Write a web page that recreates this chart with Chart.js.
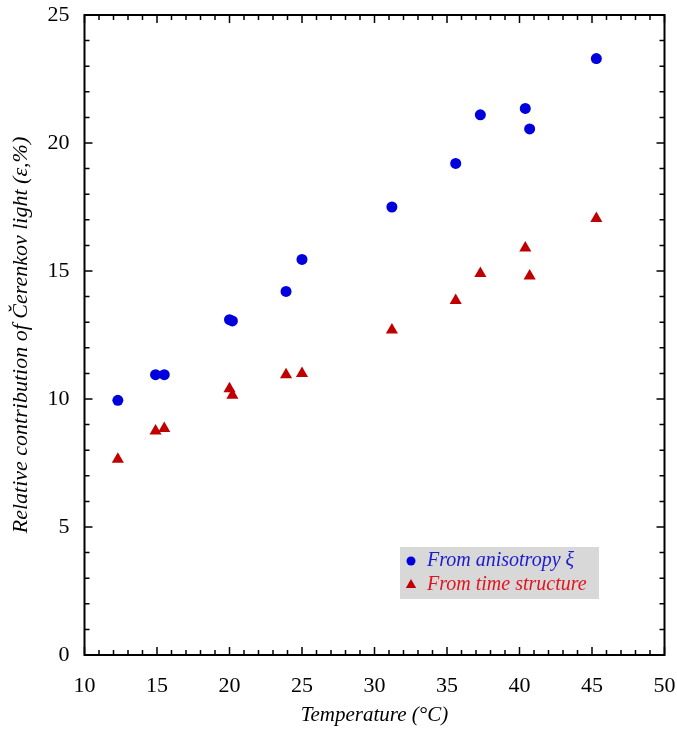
<!DOCTYPE html>
<html>
<head>
<meta charset="utf-8">
<script src="https://cdn.jsdelivr.net/npm/chart.js@4.4.0/dist/chart.umd.min.js"></script>
<style>
  html, body { margin: 0; padding: 0; background: #fff; }
  #wrap { width: 677px; height: 730px; }
</style>
</head>
<body>
<div id="wrap"><canvas id="chart" width="677" height="730"></canvas></div>
<script>
// Dữ liệu
const anisoTemp = [12.3, 14.9, 15.5, 20.0, 20.2, 23.9, 25.0, 31.2, 35.6, 37.3, 40.4, 40.7, 45.3];
const anisoVal  = [9.95, 10.95, 10.95, 13.1, 13.05, 14.2, 15.45, 17.5, 19.2, 21.1, 21.35, 20.55, 23.3];
const timeTemp  = [12.3, 14.9, 15.5, 20.0, 20.2, 23.9, 25.0, 31.2, 35.6, 37.3, 40.4, 40.7, 45.3];
const timeVal   = [7.65, 8.75, 8.85, 10.4, 10.15, 10.95, 11.0, 12.7, 13.85, 14.9, 15.9, 14.8, 17.05];

const xTicks = [10, 15, 20, 25, 30, 35, 40, 45, 50];
const yTicks = [0, 5, 10, 15, 20, 25];

const BLUE = '#0000dd';
const RED = '#c00000';
const SERIF = '"Liberation Serif", "DejaVu Serif", serif';

function toPoints(xs, ys) {
    return xs.map((x, i) => ({ x: x, y: ys[i] }));
}

// Khung + vạch chia hướng vào trong (4 cạnh)
const framePlugin = {
    id: 'frameTicks',
    afterDraw(chart) {
        const { ctx, chartArea: a, scales } = chart;
        const xs = scales.x, ys = scales.y;
        ctx.save();
        ctx.strokeStyle = '#000';
        ctx.lineWidth = 1.5;
        ctx.beginPath();
        for (let v = xTicks[0]; v <= xTicks[xTicks.length - 1]; v++) {
            const px = xs.getPixelForValue(v);
            const len = v % 5 === 0 ? 8 : 5;
            ctx.moveTo(px, a.bottom); ctx.lineTo(px, a.bottom - len);
            ctx.moveTo(px, a.top); ctx.lineTo(px, a.top + len);
        }
        for (let v = yTicks[0]; v <= yTicks[yTicks.length - 1]; v++) {
            const py = ys.getPixelForValue(v);
            const len = v % 5 === 0 ? 8 : 5;
            ctx.moveTo(a.left, py); ctx.lineTo(a.left + len, py);
            ctx.moveTo(a.right, py); ctx.lineTo(a.right - len, py);
        }
        ctx.stroke();
        ctx.lineWidth = 2;
        ctx.strokeRect(a.left, a.top, a.right - a.left, a.bottom - a.top);
        ctx.restore();
    }
};

// Chú thích trong khung xám
const legendPlugin = {
    id: 'boxLegend',
    afterDraw(chart) {
        const ctx = chart.ctx;
        const bx = 400, by = 547, bw = 199, bh = 52;
        ctx.save();
        ctx.fillStyle = '#d8d8d8';
        ctx.fillRect(bx, by, bw, bh);

        ctx.fillStyle = BLUE;
        ctx.beginPath();
        ctx.arc(bx + 11, by + 14, 4.5, 0, Math.PI * 2);
        ctx.fill();

        ctx.fillStyle = RED;
        ctx.beginPath();
        const tx = bx + 11, ty = by + 38, r = 6;
        ctx.moveTo(tx, ty - r);
        ctx.lineTo(tx + r * 0.866, ty + r * 0.5);
        ctx.lineTo(tx - r * 0.866, ty + r * 0.5);
        ctx.closePath();
        ctx.fill();

        ctx.font = 'italic 20px ' + SERIF;
        ctx.textBaseline = 'middle';
        ctx.textAlign = 'left';
        ctx.fillStyle = '#1a1ad0';
        ctx.fillText('From anisotropy ξ', bx + 27, by + 14);
        ctx.fillStyle = '#e0141e';
        ctx.fillText('From time structure', bx + 27, by + 38);
        ctx.restore();
    }
};

new Chart(document.getElementById('chart'), {
    type: 'scatter',
    data: {
        datasets: [
            {
                label: 'From anisotropy ξ',
                data: toPoints(anisoTemp, anisoVal),
                pointStyle: 'circle',
                pointRadius: 5.5,
                backgroundColor: BLUE,
                borderColor: BLUE,
                borderWidth: 0
            },
            {
                label: 'From time structure',
                data: toPoints(timeTemp, timeVal),
                pointStyle: 'triangle',
                pointRadius: 7,
                backgroundColor: RED,
                borderColor: RED,
                borderWidth: 0
            }
        ]
    },
    options: {
        responsive: false,
        animation: false,
        layout: { padding: { top: 15, right: 12.5, left: 0, bottom: 0 } },
        plugins: {
            legend: { display: false },
            tooltip: { enabled: false }
        },
        scales: {
            x: {
                type: 'linear',
                min: 10,
                max: 50,
                afterFit: s => {
                    s.height = 75;
                    s.paddingLeft = 0;
                    s.paddingRight = 0;
                },
                afterBuildTicks: s => { s.ticks = xTicks.map(v => ({ value: v })); },
                grid: { display: false, drawTicks: false },
                border: { display: false },
                ticks: {
                    padding: 18,
                    color: '#000',
                    font: { family: SERIF, size: 22 }
                },
                title: {
                    display: true,
                    text: 'Temperature (°C)',
                    color: '#000',
                    font: { family: SERIF, size: 21, style: 'italic' },
                    padding: { top: 0, bottom: 2 }
                }
            },
            y: {
                type: 'linear',
                min: 0,
                max: 25,
                afterFit: s => {
                    s.width = 84.5;
                    s.paddingTop = 0;
                    s.paddingBottom = 0;
                },
                afterBuildTicks: s => { s.ticks = yTicks.map(v => ({ value: v })); },
                grid: { display: false, drawTicks: false },
                border: { display: false },
                ticks: {
                    padding: 15,
                    color: '#000',
                    font: { family: SERIF, size: 22 }
                },
                title: {
                    display: true,
                    text: 'Relative contribution of Čerenkov light (ε,%)',
                    color: '#000',
                    font: { family: SERIF, size: 22, style: 'italic' },
                    padding: { top: 8, bottom: 0 }
                }
            }
        }
    },
    plugins: [framePlugin, legendPlugin]
});
</script>
</body>
</html>
